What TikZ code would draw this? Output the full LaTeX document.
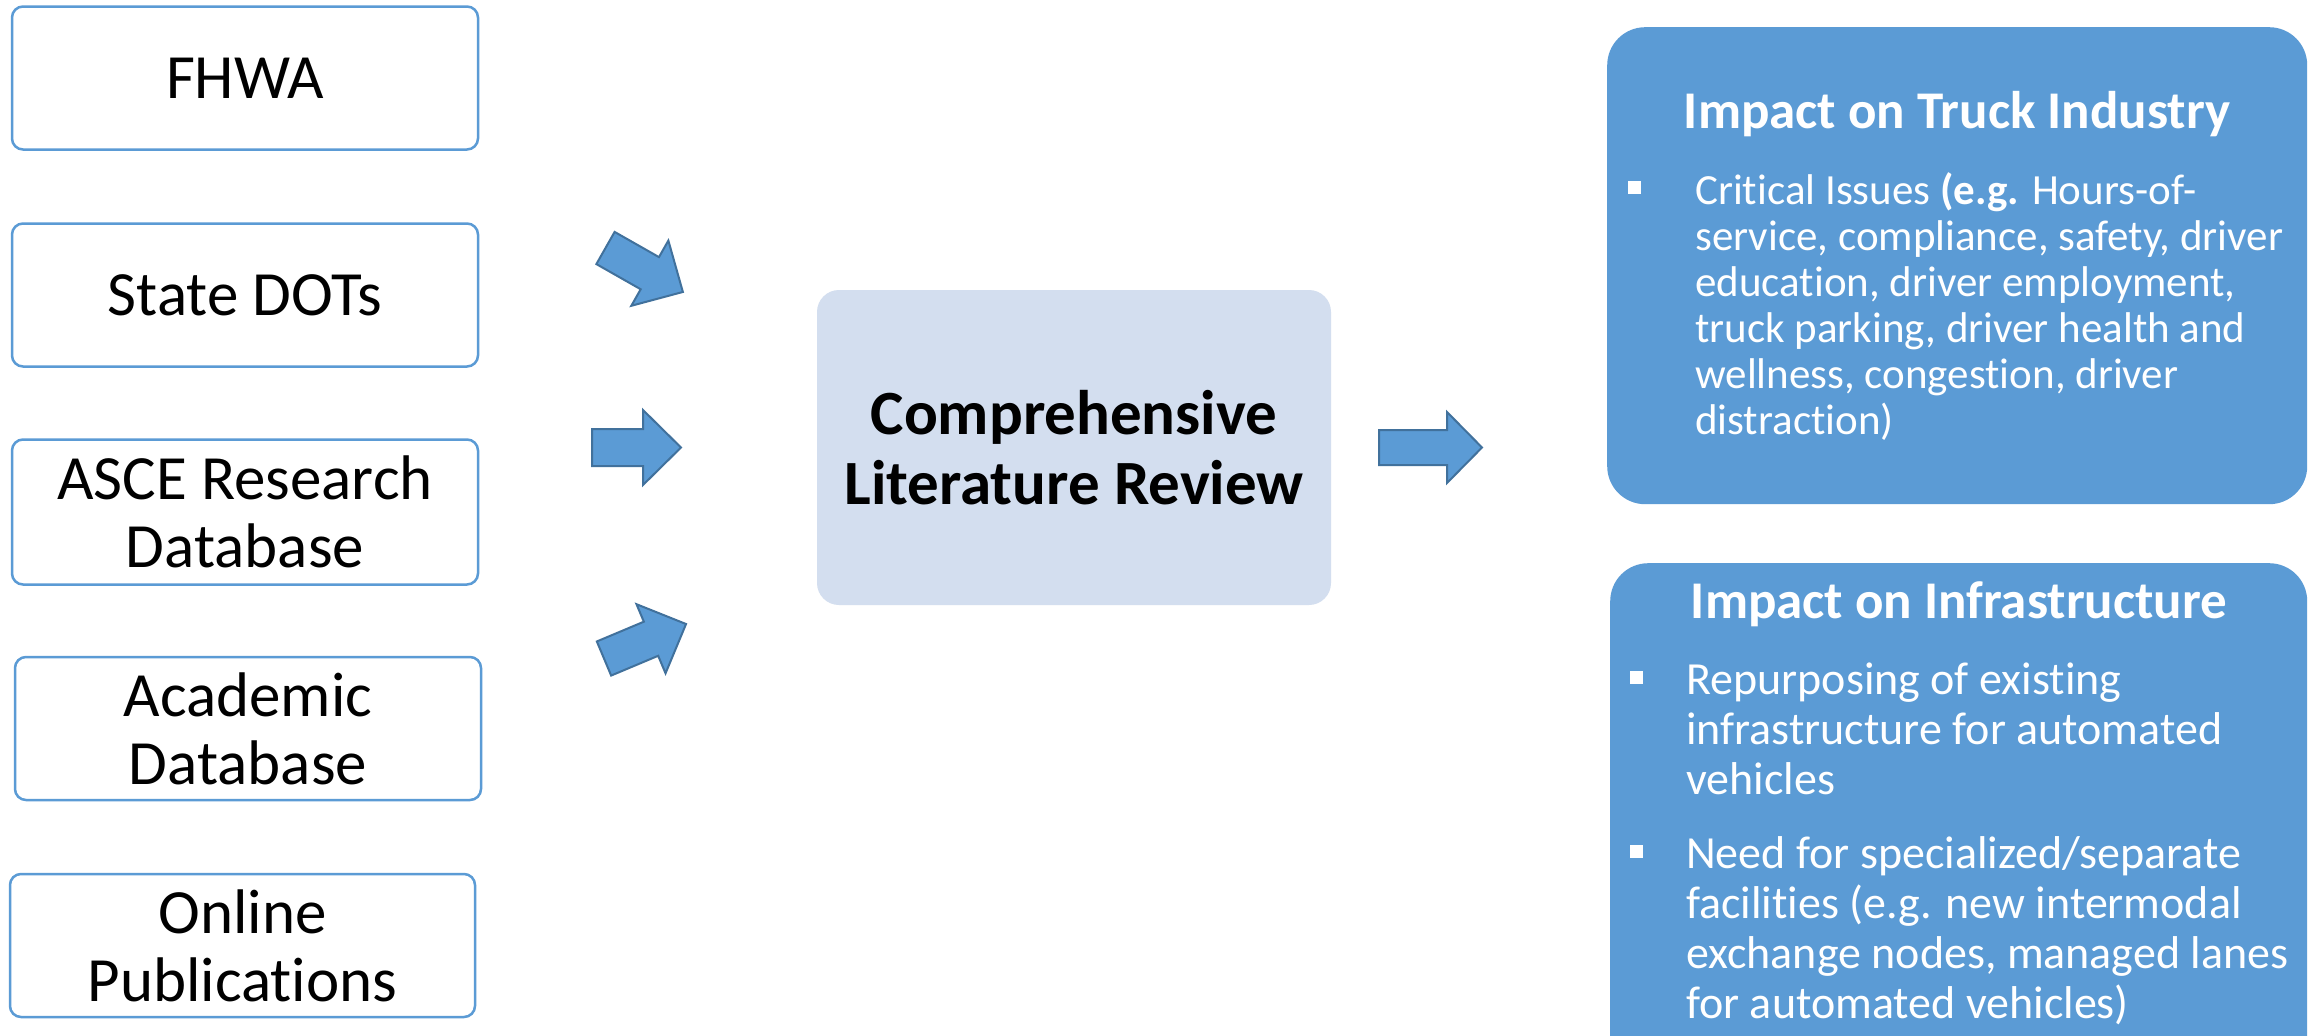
\documentclass[tikz,border=0pt]{standalone}
\usepackage{fontspec}
\setmainfont{Carlito}[Ligatures={NoCommon}]
\definecolor{acc}{HTML}{5B9BD5}
\definecolor{accdark}{HTML}{41719C}
\definecolor{lightfill}{HTML}{D3DEEF}
\begin{document}
\begin{tikzpicture}[x=1pt,y=-1pt,
  srcbox/.style={draw=acc, line width=2.5pt, fill=white, rounded corners=11pt,
    minimum width=466pt, minimum height=143pt, align=center, inner sep=0pt,
    font=\fontsize{63}{68}\selectfont},
  centrebox/.style={fill=lightfill, rounded corners=22pt, minimum width=514pt,
    minimum height=315pt, align=center, inner sep=0pt,
    font=\fontsize{63}{70}\selectfont\bfseries},
  impactbox/.style={fill=acc, rounded corners=38pt, inner sep=0pt, anchor=north west},
  ttl/.style={text=white, font=\fontsize{53}{56}\selectfont\bfseries, inner sep=0pt, anchor=base},
  bodytop/.style={text=white, font=\fontsize{43}{46}\selectfont, inner sep=0pt, anchor=base west},
  bodybot/.style={text=white, font=\fontsize{46}{50}\selectfont, inner sep=0pt, anchor=base west},
  sqbullet/.style={fill=white, minimum size=13pt, inner sep=0pt},
  blockarr/.style={fill=acc, draw=accdark, line width=2pt, line join=miter}
]
\clip (0,0) rectangle (2311,1036);
\fill[white] (0,0) rectangle (2311,1036);

% source boxes
\node[srcbox] (fhwa) at (245,78) {FHWA};
\node[srcbox] (dots) at (245,295) {State DOTs};
\node[srcbox, minimum height=145pt] (asce) at (245,512) {ASCE Research\\Database};
\node[srcbox] (acad) at (248,728.5) {Academic\\Database};
\node[srcbox, minimum width=465pt] (online) at (242.5,945.5) {Online\\Publications};

% centre box
\node[centrebox] (review) at (1074,447.5) {Comprehensive\\Literature Review};

% block arrows
\path[blockarr, shift={(605.5,248)}, rotate=-29.6]
  (0,-18.5) -- (51,-18.5) -- (51,-37.5) -- (89,0) -- (51,37.5) -- (51,18.5) -- (0,18.5) -- cycle;
\path[blockarr, shift={(592,447.5)}]
  (0,-18.5) -- (51,-18.5) -- (51,-37.5) -- (89,0) -- (51,37.5) -- (51,18.5) -- (0,18.5) -- cycle;
\path[blockarr, shift={(604,658.5)}, rotate=22.8]
  (0,-18.5) -- (51,-18.5) -- (51,-37.5) -- (89,0) -- (51,37.5) -- (51,18.5) -- (0,18.5) -- cycle;
\path[blockarr, shift={(1379,447.5)}]
  (0,-17.5) -- (68,-17.5) -- (68,-35.5) -- (103,0) -- (68,35.5) -- (68,17.5) -- (0,17.5) -- cycle;

% impact boxes
\node[impactbox, minimum width=700pt, minimum height=477pt] (truck) at (1607,27) {};
\node[impactbox, minimum width=697pt, minimum height=540pt] (infra) at (1610,563) {};

% truck industry text
\node[ttl] (trucktitle) at (1957,128) {Impact on Truck Industry};
\node[sqbullet] (tbul) at (1634,187) {};
\node[bodytop] (trucktext) at (1695,204) {\vtop{%
  \hbox{Critical Issues \textbf{(e.g.} Hours-of-}%
  \hbox{service, compliance, safety, driver}%
  \hbox{education, driver employment,}%
  \hbox{truck parking, driver health and}%
  \hbox{wellness, congestion, driver}%
  \hbox{distraction)}}};

% infrastructure text
\node[ttl] (infratitle) at (1959,618) {Impact on Infrastructure};
\node[sqbullet] (ibul1) at (1636,677) {};
\node[bodybot] (infratext1) at (1686,694) {\vtop{%
  \hbox{Repurposing of existing}%
  \hbox{infrastructure for automated}%
  \hbox{vehicles}}};
\node[sqbullet] (ibul2) at (1636,851) {};
\node[bodybot] (infratext2) at (1686,868) {\vtop{%
  \hbox{Need for specialized/separate}%
  \hbox{facilities (e.g. new intermodal}%
  \hbox{exchange nodes, managed lanes}%
  \hbox{for automated vehicles)}}};
\end{tikzpicture}
\end{document}
